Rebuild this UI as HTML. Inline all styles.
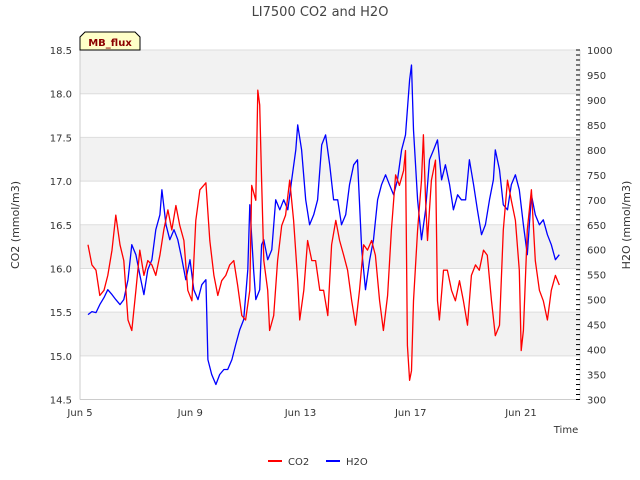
<!DOCTYPE html>
<html><head><meta charset="utf-8"><style>
body{margin:0;background:#fff;}
svg{display:block;font-family:"DejaVu Sans","Liberation Sans",sans-serif;}
</style></head><body>
<svg id="chart" width="640" height="480" viewBox="0 0 640 480">
<text x="320" y="16" text-anchor="middle" font-size="13" fill="#444">LI7500 CO2 and H2O</text>
<g id="plot"></g>
<g id="axes"></g>
<g id="series"></g>
<g>
<path d="M80,50 L80,37 L85,32 L135,32 L140,37 L140,50 Z" fill="#ffffc8" stroke="#000" stroke-width="1"/>
<text x="110" y="46" text-anchor="middle" font-size="10" font-weight="bold" fill="#8b0000">MB_flux</text>
</g>
<text transform="translate(19,225) rotate(-90)" text-anchor="middle" font-size="11" fill="#333">CO2 (mmol/m3)</text>
<text transform="translate(630,225) rotate(-90)" text-anchor="middle" font-size="11" fill="#333">H2O (mmol/m3)</text>
<text x="566" y="433" text-anchor="middle" font-size="10" fill="#333">Time</text>
<g>
<g><line x1="268" y1="461" x2="282" y2="461" stroke="#f00" stroke-width="2"/><text x="288" y="465" font-size="10" fill="#333">CO2</text></g>
<g><line x1="326" y1="461" x2="340" y2="461" stroke="#00f" stroke-width="2"/><text x="346" y="465" font-size="10" fill="#333">H2O</text></g>
</g>
</svg>
<script>
const xTickLabels=["Jun 5","Jun 9","Jun 13","Jun 17","Jun 21"];
const xTickDays=[0,4,8,12,16];
const leftTicks=[14.5,15.0,15.5,16.0,16.5,17.0,17.5,18.0,18.5];
const rightTicks=[300,350,400,450,500,550,600,650,700,750,800,850,900,950,1000];
const co2Days=[0.29,0.43,0.58,0.72,0.87,1.01,1.16,1.30,1.45,1.59,1.74,1.88,2.03,2.17,2.32,2.46,2.61,2.75,2.90,3.04,3.19,3.33,3.48,3.62,3.77,3.91,4.06,4.20,4.35,4.49,4.57,4.71,4.86,5.00,5.14,5.29,5.43,5.58,5.72,5.87,6.01,6.16,6.23,6.38,6.45,6.52,6.59,6.67,6.81,6.88,7.03,7.17,7.32,7.46,7.61,7.75,7.90,7.97,8.12,8.26,8.41,8.55,8.70,8.84,8.99,9.13,9.28,9.42,9.57,9.71,9.86,10.00,10.14,10.29,10.43,10.58,10.72,10.87,11.01,11.16,11.30,11.45,11.59,11.74,11.81,11.88,11.96,12.03,12.10,12.25,12.39,12.46,12.54,12.61,12.75,12.90,12.97,13.04,13.19,13.33,13.48,13.62,13.77,13.91,14.06,14.20,14.35,14.49,14.64,14.78,14.93,15.07,15.22,15.36,15.51,15.65,15.80,15.94,16.01,16.09,16.23,16.38,16.52,16.67,16.81,16.96,17.10,17.25,17.39];
const co2Values=[16.27,16.04,15.98,15.69,15.75,15.92,16.21,16.61,16.27,16.09,15.41,15.29,15.75,16.21,15.92,16.09,16.04,15.92,16.15,16.44,16.67,16.44,16.72,16.49,16.32,15.75,15.63,16.55,16.90,16.95,16.98,16.32,15.92,15.69,15.86,15.92,16.04,16.09,15.81,15.46,15.41,15.75,16.95,16.78,18.04,17.87,17.01,16.09,15.75,15.29,15.46,16.09,16.49,16.61,17.01,16.55,15.86,15.41,15.75,16.32,16.09,16.09,15.75,15.75,15.46,16.27,16.55,16.32,16.15,15.98,15.63,15.35,15.75,16.27,16.21,16.32,16.15,15.63,15.29,15.69,16.44,17.07,16.95,17.12,17.35,15.12,14.72,14.83,15.63,16.44,17.01,17.53,16.78,16.32,17.01,17.24,15.63,15.41,15.98,15.98,15.75,15.63,15.86,15.63,15.35,15.92,16.04,15.98,16.21,16.15,15.63,15.23,15.35,16.44,17.01,16.78,16.55,15.98,15.06,15.29,16.44,16.90,16.09,15.75,15.63,15.41,15.75,15.92,15.81];
const h2oDays=[0.29,0.43,0.58,0.72,0.87,1.01,1.16,1.30,1.45,1.59,1.74,1.88,2.03,2.17,2.32,2.46,2.61,2.75,2.90,2.97,3.12,3.26,3.41,3.55,3.70,3.84,3.99,4.13,4.28,4.42,4.57,4.64,4.78,4.93,5.07,5.22,5.36,5.51,5.65,5.80,5.94,6.09,6.16,6.30,6.38,6.52,6.59,6.67,6.81,6.96,7.10,7.25,7.39,7.54,7.68,7.83,7.90,8.04,8.19,8.33,8.48,8.62,8.77,8.91,9.06,9.20,9.35,9.49,9.64,9.78,9.93,10.07,10.22,10.36,10.51,10.65,10.80,10.94,11.09,11.23,11.38,11.52,11.67,11.81,11.96,12.03,12.10,12.25,12.39,12.54,12.68,12.83,12.97,13.12,13.26,13.41,13.55,13.70,13.84,13.99,14.13,14.28,14.42,14.57,14.71,14.86,15.00,15.07,15.22,15.36,15.51,15.65,15.80,15.94,16.09,16.23,16.38,16.52,16.67,16.81,16.96,17.10,17.25,17.39];
const h2oValues=[470,476,474,490,504,520,510,500,490,500,540,610,590,550,510,560,580,640,670,720,650,620,640,620,580,540,580,520,500,530,540,380,350,330,350,360,360,380,410,440,460,560,690,560,500,520,610,620,580,600,700,680,700,680,740,800,850,800,700,650,670,700,810,830,770,700,700,650,670,730,770,780,600,520,580,620,700,730,750,730,710,740,800,830,940,970,840,700,620,680,780,800,820,740,770,730,680,710,700,700,780,730,680,630,650,700,740,800,760,690,680,730,750,720,650,590,710,670,650,660,630,610,580,590];

const NS="http://www.w3.org/2000/svg";
const X0=80,X1=580,Y0=50,Y1=399.5;
function xs(d){return X0+d*27.56;}
function yl(v){return Y1-(v-14.5)/4*(Y1-Y0);}
function yr(v){return Y1-(v-300)/700*(Y1-Y0);}
function mk(tag,attrs,parent){const e=document.createElementNS(NS,tag);for(const k in attrs)e.setAttribute(k,attrs[k]);parent.appendChild(e);return e;}
const plot=document.getElementById('plot'),axes=document.getElementById('axes'),series=document.getElementById('series');
mk('rect',{x:X0,y:Y0,width:X1-X0,height:Y1-Y0,fill:'#fff'},plot);
for(let i=0;i<leftTicks.length-1;i++){
  if(i%2===1){const r=mk('rect',{x:X0,y:yl(leftTicks[i+1]),width:X1-X0,height:yl(leftTicks[i])-yl(leftTicks[i+1]),fill:'#f2f2f2'},plot);
  
  }
}
leftTicks.forEach(v=>{
  const g=mk('line',{x1:X0,x2:X1,y1:yl(v),y2:yl(v),stroke:'#ddd','stroke-width':1},plot);
  
  
  const t=mk('text',{x:72,y:yl(v)+4,'text-anchor':'end','font-size':10,fill:'#333'},axes);
  t.textContent=v.toFixed(1);
  
  
});
mk('line',{x1:X0,x2:X0,y1:Y0,y2:Y1,stroke:'#ccc'},plot);
mk('line',{x1:X0,x2:X1,y1:Y1,y2:Y1,stroke:'#ccc'},plot);
mk('line',{x1:X1,x2:X1,y1:Y0,y2:Y1,stroke:'#ddd'},plot);
for(let v=300;v<=1000;v+=10){
  mk('line',{x1:X1-4,x2:X1,y1:yr(v),y2:yr(v),stroke:'#000','stroke-width':1},axes);
}
rightTicks.forEach(v=>{
  const t=mk('text',{x:587,y:yr(v)+4,'font-size':10,fill:'#333'},axes);
  t.textContent=v;
  
  
});
xTickDays.forEach((d,i)=>{
  const t=mk('text',{x:xs(d),y:416,'text-anchor':'middle','font-size':10,fill:'#333'},axes);
  t.textContent=xTickLabels[i];
  
  
});
const co2=mk('polyline',{points:co2Days.map((d,i)=>xs(d).toFixed(1)+','+yl(co2Values[i]).toFixed(1)).join(' '),fill:'none',stroke:'#f00','stroke-width':1.3,'stroke-linejoin':'round'},series);


const h2o=mk('polyline',{points:h2oDays.map((d,i)=>xs(d).toFixed(1)+','+yr(h2oValues[i]).toFixed(1)).join(' '),fill:'none',stroke:'#00f','stroke-width':1.3,'stroke-linejoin':'round'},series);


series.insertBefore(h2o,co2);
</script>
</body></html>
